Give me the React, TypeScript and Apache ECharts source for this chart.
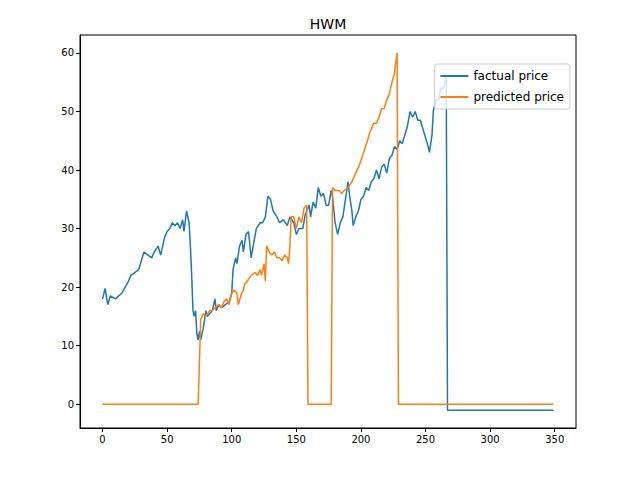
import React, { useEffect, useRef } from "react";
import * as echarts from "echarts";

const factualX = [0,2,4,6,10,15,20,22,25,28,30,32,35,38,40,43,45,48,50,52,54,56,58,60,62,63,65,67,68,69,70,71,72,73,74,75,76,78,80,81,83,85,87,88,90,92,95,98,100,101,103,104,106,108,109,111,113,115,117,119,122,124,126,128,130,132,135,137,140,143,145,148,150,152,155,157,160,161,163,165,167,169,171,173,175,177,178,180,182,184,186,188,190,191,193,194,196,198,200,202,204,206,208,210,212,214,216,218,220,222,224,226,228,230,232,234,236,238,240,242,244,246,248,250,252,253,255,256,258,260,262,264,266,267,349];
const factualY = [18,19.8,17,18.5,18,19,21,22,22.5,23,24.5,26,25.5,25,26,27,25.5,28.5,29.5,30,31,30.5,31,30,31.5,29.5,33,31,27,22,16,15,16,12,11,12.5,11,13,16,15,15.5,16,18,16,17,16.5,17,17.5,19,23,25,24,27,28,26,29,29.5,25,27.5,30,31,31,32,35.5,35,33,32,31,31.5,30.5,32,31,29,30,30,32.5,34,32,34.5,33.5,37,35.5,36,34,34,36.5,35.5,31,29,31,32,35,38,36,33,30.5,32,33,35,35.5,37,36.5,38,38.5,40,38.5,40.5,41,39.5,42,42.5,44,43.5,45,44.5,46,47.5,50,49,50,48.5,48.5,47,45.5,44,43,46,50,52,52,54,54,56,-1,-1];
const predX = [0,74,76,78,80,83,85,87,90,92,94,96,98,100,102,104,105,107,109,110,112,115,118,120,122,123,125,126,127,129,131,133,135,137,139,141,143,144,145,146,148,150,152,154,156,158,159,177,178,180,183,185,187,190,193,196,199,202,205,207,210,212,214,216,218,220,222,224,226,227,228,229,349];
const predY = [0,0,14.5,15.5,15,16,16,16.5,17,16.5,17.5,18,17,19,19.5,19,17,18.5,19.5,20.5,21,22,22.5,22,23,22,24,21,27,26,25.5,26,25,25,24.5,25.5,25,24,27,32,32,30,32,31,33.5,34,0,0,37,36.5,36.5,36,36.5,37,38,39.5,41,43,45,46.5,48,48,49,50.5,50.5,52,53,55,56.5,58.5,60,0,0];
const xTicks = [0,50,100,150,200,250,300,350];
const yTicks = [0,10,20,30,40,50,60];

export default function App() {
  const ref = useRef<HTMLDivElement>(null);
  useEffect(() => {
    const chart = echarts.init(ref.current!, null, { renderer: "svg" });
    const ax = { lineStyle: { color: "#000" } };
    chart.setOption({
      animation: false,
      title: { text: "HWM", left: "center", top: 4, textStyle: { fontFamily: "DejaVu Sans", fontSize: 14, fontWeight: "normal", color: "#000" } },
      grid: { left: 72, right: 72, top: 27, bottom: 60, show: true, borderColor: "#000", borderWidth: 1 },
      legend: {
        orient: "vertical", right: 78, top: 56, itemWidth: 28, itemHeight: 2, itemGap: 9,
        backgroundColor: "rgba(255,255,255,0.8)", borderColor: "#ccc", borderWidth: 1, borderRadius: 3, padding: [6, 6],
        textStyle: { fontFamily: "DejaVu Sans", fontSize: 12, color: "#000" },
        icon: "rect",
        data: ["factual price", "predicted price"],
      },
      xAxis: {
        type: "value", min: -17.45, max: 366.45, splitLine: { show: false },
        axisLine: { onZero: false, ...ax },
        axisTick: { show: true, inside: false, length: 4, lineStyle: { color: "#000" }, customValues: xTicks },
        axisLabel: { customValues: xTicks, color: "#000", fontFamily: "DejaVu Sans", fontSize: 10, margin: 6 },
      },
      yAxis: {
        type: "value", min: -4.05, max: 63.05, splitLine: { show: false },
        axisLine: { show: true, onZero: false, ...ax },
        axisTick: { show: true, inside: false, length: 4, lineStyle: { color: "#000" }, customValues: yTicks },
        axisLabel: { customValues: yTicks, color: "#000", fontFamily: "DejaVu Sans", fontSize: 10, margin: 6 },
      },
      series: [
        { name: "factual price", type: "line", showSymbol: false, color: "#1f77b4", lineStyle: { width: 1.5 }, data: factualX.map((x, i) => [x, factualY[i]]) },
        { name: "predicted price", type: "line", showSymbol: false, color: "#ff7f0e", lineStyle: { width: 1.5 }, data: predX.map((x, i) => [x, predY[i]]) },
      ],
    });
    return () => chart.dispose();
  }, []);
  return <div ref={ref} style={{ width: 640, height: 480 }} />;
}
